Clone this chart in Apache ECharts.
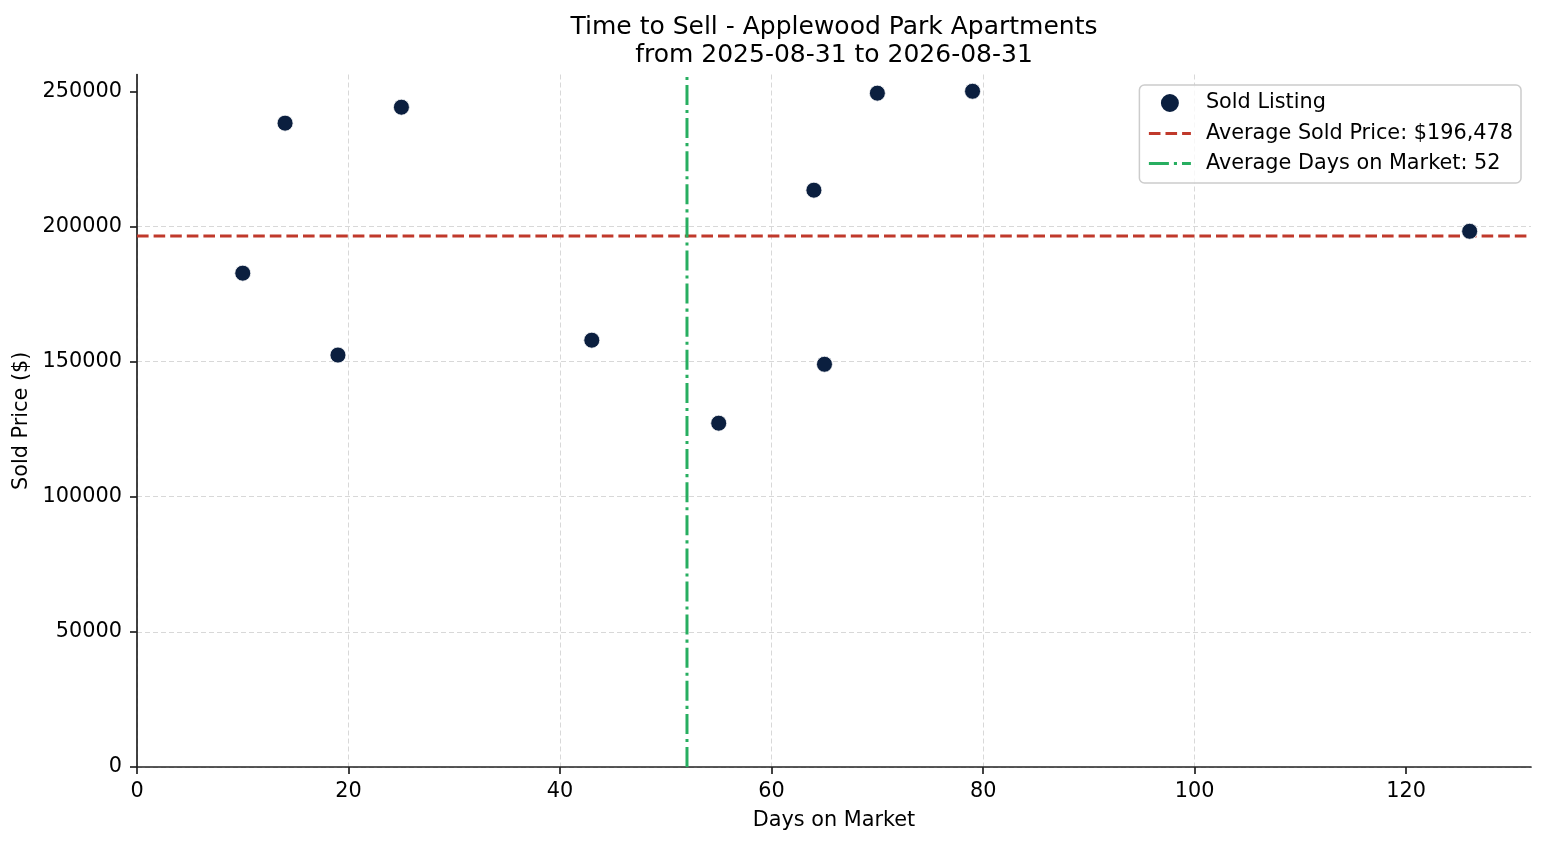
<!DOCTYPE html>
<html>
<head>
<meta charset="utf-8">
<script src="https://cdn.jsdelivr.net/npm/echarts@6/dist/echarts.min.js"></script>
<style>
  html, body { margin: 0; padding: 0; background: #fff; }
  #chart { width: 1547px; height: 845px; }
</style>
</head>
<body>
<div id="chart"></div>
<script>
// sold listings: days on market / sold price
const daysOnMarket = [10, 14, 19, 25, 43, 55, 64, 65, 70, 79, 126]
const soldPrices = [182700, 238200, 152400, 244100, 157900, 127200, 213400, 149000, 249300, 250000, 198200]

const avgPrice = 196478
const avgDays = 52

const xMax = 131.8
const yMax = 256200
const xTicks = [0, 20, 40, 60, 80, 100, 120]
const yTicks = [0, 50000, 100000, 150000, 200000, 250000]

const titleText = 'Time to Sell - Applewood Park Apartments\nfrom 2025-08-31 to 2026-08-31'
const seriesNames = ['Sold Listing', 'Average Sold Price: $196,478', 'Average Days on Market: 52']

const font = 'DejaVu Sans'
const axisColor = '#222'
const redDash = [11.6, 5]
const greenDashDot = [20, 5, 3.1, 5]

const chart = echarts.init(document.getElementById('chart'))

const points = daysOnMarket.map((d, i) => [d, soldPrices[i]])

const option = {
  animation: false,
  backgroundColor: '#fff',
  textStyle: { fontFamily: font, color: '#000' },
  graphic: [{
    type: 'text',
    x: 834,
    y: 13,
    style: {
      text: titleText,
      font: '25px "DejaVu Sans"',
      fill: '#000',
      align: 'center',
      verticalAlign: 'top',
      lineHeight: 28
    }
  }],
  grid: { left: 137, right: 16, top: 74.5, bottom: 78, containLabel: false },
  legend: {
    orient: 'vertical',
    right: 26,
    top: 85,
    data: [
      { name: seriesNames[0] },
      { name: seriesNames[1], itemStyle: { opacity: 0 }, lineStyle: { width: 3, type: redDash } },
      { name: seriesNames[2], itemStyle: { opacity: 0 }, lineStyle: { width: 3, type: greenDashDot } }
    ],
    itemWidth: 42,
    itemHeight: 20,
    itemGap: 9,
    padding: [7, 8, 9, 8],
    backgroundColor: 'rgba(255,255,255,0.8)',
    borderColor: '#cccccc',
    borderWidth: 1.5,
    borderRadius: 5,
    textStyle: { fontFamily: font, fontSize: 20.8, color: '#000', lineHeight: 21, padding: [0, 0, 0, 10] }
  },
  xAxis: {
    type: 'value',
    min: 0,
    max: xMax,
    name: 'Days on Market',
    nameLocation: 'middle',
    nameGap: 43,
    nameTextStyle: { fontFamily: font, fontSize: 20.8, color: '#000' },
    axisLine: { show: true, onZero: false, lineStyle: { color: axisColor, width: 1.7 } },
    axisTick: { show: true, length: 7, lineStyle: { color: axisColor, width: 1.7 }, customValues: xTicks },
    axisLabel: { fontFamily: font, fontSize: 20.8, color: '#000', margin: 14, customValues: xTicks, formatter: v => String(v) },
    splitLine: { show: true, showMaxLine: false, lineStyle: { color: '#d8d8d8', width: 1, type: [5, 3] } }
  },
  yAxis: {
    type: 'value',
    min: 0,
    max: yMax,
    name: 'Sold Price ($)',
    nameLocation: 'middle',
    nameGap: 103,
    nameTextStyle: { fontFamily: font, fontSize: 20.8, color: '#000' },
    axisLine: { show: true, onZero: false, lineStyle: { color: axisColor, width: 1.7 } },
    axisTick: { show: true, length: 7, lineStyle: { color: axisColor, width: 1.7 }, customValues: yTicks },
    axisLabel: { fontFamily: font, fontSize: 20.8, color: '#000', margin: 15, customValues: yTicks, formatter: v => String(v) },
    splitLine: { show: true, showMaxLine: false, lineStyle: { color: '#d8d8d8', width: 1, type: [5, 3] } }
  },
  series: [
    {
      name: seriesNames[0],
      type: 'scatter',
      data: points,
      symbol: 'circle',
      symbolSize: 16,
      itemStyle: { color: '#0b1f3f', borderColor: '#fff', borderWidth: 0.8, opacity: 1 },
      z: 5
    },
    {
      name: seriesNames[1],
      type: 'line',
      data: [[0, avgPrice], [xMax, avgPrice]],
      symbol: 'none',
      lineStyle: { color: '#c0392b', width: 3, type: redDash },
      itemStyle: { color: '#c0392b' },
      z: 3
    },
    {
      name: seriesNames[2],
      type: 'line',
      data: [[avgDays, 0], [avgDays, yMax]],
      symbol: 'none',
      lineStyle: { color: '#27ae60', width: 3, type: greenDashDot },
      itemStyle: { color: '#27ae60' },
      z: 3
    }
  ]
}

chart.setOption(option)
</script>
</body>
</html>
